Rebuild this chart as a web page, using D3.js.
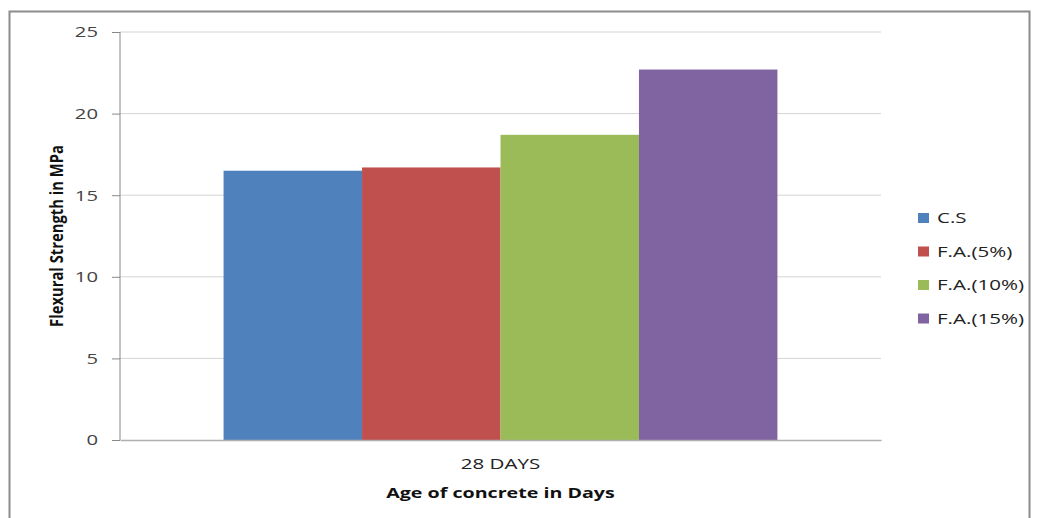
<!DOCTYPE html>
<html>
<head>
<meta charset="utf-8">
<script src="https://cdn.jsdelivr.net/npm/d3@7"></script>
<style>
  body { margin: 0; background: #fff; }
  text { font-family: "Open Sans", "Liberation Sans", sans-serif; }
</style>
</head>
<body>
<div class="chart"></div>
<script>
// data
var categories = ["28 DAYS"];
var seriesNames = ["C.S", "F.A.(5%)", "F.A.(10%)", "F.A.(15%)"];
var seriesValues = [16.5, 16.7, 18.7, 22.7];
var seriesColors = ["#4f81bd", "#c0504d", "#9bbb59", "#8064a2"];
var yTicks = [0, 5, 10, 15, 20, 25];

var W = 1040, H = 518;
var margin = {top: 32, right: 159, bottom: 78, left: 120};
var width = W - margin.left - margin.right;
var height = H - margin.top - margin.bottom;

// the original picture is stretched sideways, so widen the text the same way
function stretch(sel, k) {
    sel.each(function() {
        var t = d3.select(this);
        var tx = +t.attr("x") || 0, ty = +t.attr("y") || 0;
        t.attr("x", 0).attr("y", 0)
         .attr("transform", "translate(" + tx + "," + ty + ") scale(" + k + ",1)");
    });
}

var root = d3.select(".chart").append("svg")
    .attr("width", W)
    .attr("height", H);

// outer frame
root.append("rect")
    .attr("x", 9.5).attr("y", 11.5)
    .attr("width", 1020).attr("height", 520)
    .attr("fill", "none")
    .attr("stroke", "#8c8c8c")
    .attr("stroke-width", 2);

var svg = root.append("g")
    .attr("transform", "translate(" + margin.left + "," + margin.top + ")");

var y = d3.scaleLinear().domain([0, 25]).range([height, 0]);
var x0 = d3.scaleBand().domain(categories).range([0, width]).paddingInner(0).paddingOuter(0.187);
var x1 = d3.scaleBand().domain(seriesNames).range([0, x0.bandwidth()]).padding(0);

// gridlines
svg.append("g").selectAll("line")
    .data(yTicks.filter(function(d) { return d > 0; }))
    .enter().append("line")
    .attr("x1", 0).attr("x2", width)
    .attr("y1", function(d) { return y(d); })
    .attr("y2", function(d) { return y(d); })
    .attr("stroke", "#d4d4d4")
    .attr("stroke-width", 1);

// bars
var group = svg.append("g").selectAll("g")
    .data(categories)
    .enter().append("g")
    .attr("transform", function(d) { return "translate(" + x0(d) + ",0)"; });

group.selectAll("rect")
    .data(function(d, i) {
        return seriesNames.map(function(s, j) { return {name: s, value: seriesValues[j], color: seriesColors[j]}; });
    })
    .enter().append("rect")
    .attr("x", function(d) { return x1(d.name); })
    .attr("y", function(d) { return y(d.value); })
    .attr("width", x1.bandwidth())
    .attr("height", function(d) { return height - y(d.value); })
    .attr("fill", function(d) { return d.color; });

// y axis
var yAxis = svg.append("g")
    .call(d3.axisLeft(y).tickValues(yTicks).tickSize(8).tickPadding(14));
yAxis.select(".domain").attr("stroke", "#888").attr("d", "M0," + height + "V0");
yAxis.selectAll(".tick line").attr("stroke", "#888");
yAxis.selectAll(".tick text")
    .attr("fill", "#444")
    .style("font-size", "15px");
stretch(yAxis.selectAll(".tick text"), 1.35);

// x axis line
var xAxis = svg.append("g")
    .attr("transform", "translate(0," + height + ")")
    .call(d3.axisBottom(x0).tickSize(0).tickPadding(18));
xAxis.select(".domain").attr("stroke", "#b0b0b0").attr("stroke-width", 1.5);
xAxis.selectAll(".tick text")
    .attr("fill", "#222")
    .style("font-size", "15px");
stretch(xAxis.selectAll(".tick text"), 1.37);

// axis titles
var xTitle = svg.append("text")
    .attr("x", x0(categories[0]) + x0.bandwidth() / 2)
    .attr("y", height + 58)
    .attr("text-anchor", "middle")
    .style("font-size", "15px")
    .style("font-weight", "bold")
    .attr("fill", "#111")
    .text("Age of concrete in Days");
stretch(xTitle, 1.31);

svg.append("text")
    .attr("transform", "translate(" + (-57) + "," + (height / 2) + ") scale(1.2,1) rotate(-90)")
    .attr("text-anchor", "middle")
    .style("font-size", "14.8px")
    .style("font-weight", "bold")
    .attr("fill", "#111")
    .text("Flexural Strength in MPa");

// legend
var legend = root.append("g")
    .attr("transform", "translate(918,218)");

var item = legend.selectAll("g")
    .data(seriesNames)
    .enter().append("g")
    .attr("transform", function(d, i) { return "translate(0," + (i * 33.5) + ")"; });

item.append("rect")
    .attr("x", 0).attr("y", -5)
    .attr("width", 11).attr("height", 10)
    .attr("fill", function(d, i) { return seriesColors[i]; });

var legendText = item.append("text")
    .attr("x", 19).attr("y", 5)
    .style("font-size", "15px")
    .attr("fill", "#222")
    .text(function(d) { return d; });
stretch(legendText, 1.37);
</script>
</body>
</html>
